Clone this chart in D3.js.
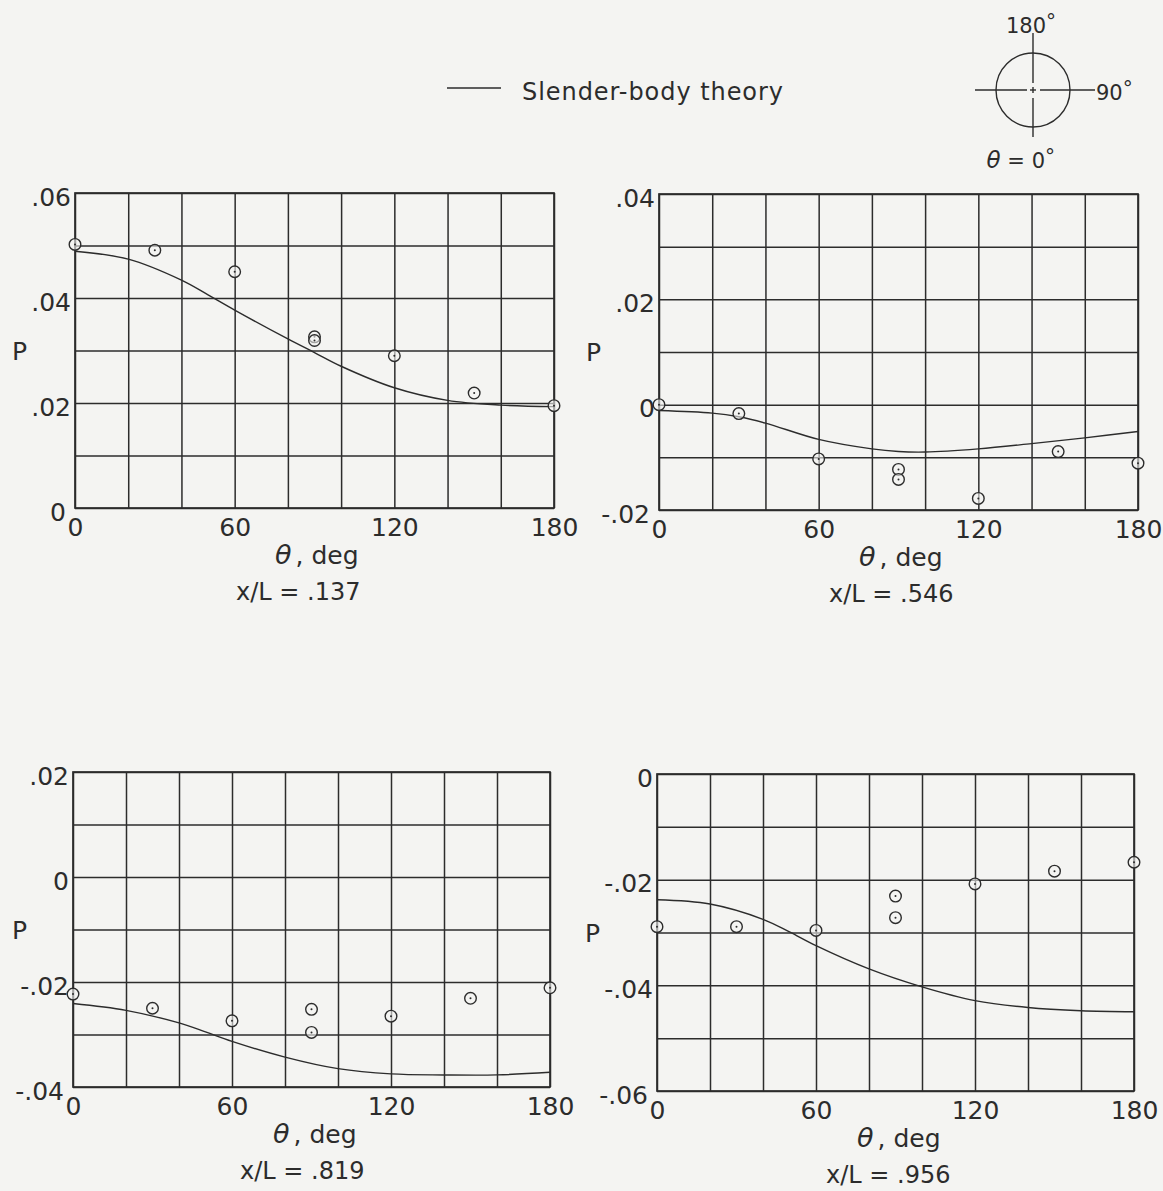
<!DOCTYPE html>
<html>
<head>
<meta charset="utf-8">
<script src="https://cdn.jsdelivr.net/npm/d3@7"></script>
<style>
  html, body { margin: 0; padding: 0; background: #f4f4f2; }
  svg { display: block; }
</style>
</head>
<body>
<svg id="chart" width="1163" height="1191"></svg>
<script>
// ---------------- DATA ----------------
const thetaTickValues = [0, 60, 120, 180];
const thetaTickLabels = ["0", "60", "120", "180"];

const stationLabels = ["x/L = .137", "x/L = .546", "x/L = .819", "x/L = .956"];

const yTickLabels137 = { "6": ".06", "4": ".04", "2": ".02", "0": "0" };
const yTickLabels546 = { "4": ".04", "2": ".02", "0": "0", "-2": "-.02" };
const yTickLabels819 = { "2": ".02", "0": "0", "-2": "-.02", "-4": "-.04" };
const yTickLabels956 = { "0": "0", "-2": "-.02", "-4": "-.04", "-6": "-.06" };

// measured pressure coefficients (circles)
const thetaMeasured = [0, 30, 60, 90, 90, 120, 150, 180];
const pMeasured137 = [0.0502, 0.0491, 0.0450, 0.0326, 0.0319, 0.0290, 0.0219, 0.0195];
const pMeasured546 = [0.0000, -0.0017, -0.0103, -0.0123, -0.0142, -0.0178, -0.0089, -0.0111];
const pMeasured819 = [-0.0223, -0.0250, -0.0274, -0.0252, -0.0296, -0.0265, -0.0231, -0.0211];
const pMeasured956 = [-0.0289, -0.0289, -0.0296, -0.0231, -0.0272, -0.0208, -0.0184, -0.0167];

// slender-body theory curves
const thetaTheory137 = [0, 20, 40, 50, 60, 80, 90, 100, 120, 140, 160, 180];
const pTheory137 = [0.0489, 0.0474, 0.0434, 0.0406, 0.0377, 0.0322, 0.0296, 0.0270, 0.0229, 0.0205, 0.0196, 0.0193];
const thetaTheory546 = [0, 20, 30, 40, 60, 80, 90, 100, 120, 140, 160, 180];
const pTheory546 = [-0.0011, -0.0016, -0.0023, -0.0035, -0.0066, -0.0084, -0.0089, -0.0090, -0.0084, -0.0074, -0.0063, -0.0051];
const thetaTheory819 = [0, 20, 40, 50, 60, 80, 100, 120, 140, 160, 180];
const pTheory819 = [-0.0241, -0.0254, -0.0278, -0.0295, -0.0313, -0.0343, -0.0365, -0.0375, -0.0377, -0.0377, -0.0372];
const thetaTheory956 = [0, 20, 40, 50, 60, 80, 100, 120, 140, 160, 180];
const pTheory956 = [-0.0238, -0.0246, -0.0275, -0.0299, -0.0325, -0.0369, -0.0403, -0.0429, -0.0442, -0.0448, -0.0450];

const legendLabel = "Slender-body theory";

// ---------------- LAYOUT ----------------
const ink = "#2c2c2c";
const font = "'DejaVu Sans', 'Liberation Sans', sans-serif";

const panels = [
  { x0: 75,  x1: 554,  y0: 193, y1: 508,  dom: [0, 0.06],     ylab: yTickLabels137, pm: pMeasured137, tt: thetaTheory137, pt: pTheory137, station: stationLabels[0], pX: 12,  stX: 161 },
  { x0: 659, x1: 1138, y0: 194, y1: 510,  dom: [-0.02, 0.04], ylab: yTickLabels546, pm: pMeasured546, tt: thetaTheory546, pt: pTheory546, station: stationLabels[1], pX: 586, stX: 170 },
  { x0: 73,  x1: 550,  y0: 772, y1: 1087, dom: [-0.04, 0.02], ylab: yTickLabels819, pm: pMeasured819, tt: thetaTheory819, pt: pTheory819, station: stationLabels[2], pX: 12,  stX: 167 },
  { x0: 657, x1: 1134, y0: 774, y1: 1091, dom: [-0.06, 0],    ylab: yTickLabels956, pm: pMeasured956, tt: thetaTheory956, pt: pTheory956, station: stationLabels[3], pX: 585, stX: 169 }
];

const svg = d3.select("#chart");
svg.append("rect").attr("width", 1163).attr("height", 1191).attr("fill", "#f4f4f2");

panels.forEach(p => {
  const x = d3.scaleLinear().domain([0, 180]).range([p.x0, p.x1]);
  const y = d3.scaleLinear().domain(p.dom).range([p.y1, p.y0]);
  const g = svg.append("g");
  const h = p.y1 - p.y0, w = p.x1 - p.x0;

  // vertical grid + theta tick labels
  const gridX = d3.range(0, 181, 20);
  const ax = d3.axisBottom(x)
    .tickValues(gridX)
    .tickSizeInner(-h).tickSizeOuter(0).tickPadding(10)
    .tickFormat(v => { const i = thetaTickValues.indexOf(v); return i >= 0 ? thetaTickLabels[i] : ""; });
  const gx = g.append("g").attr("transform", `translate(0,${p.y1})`).call(ax);
  gx.select(".domain").remove();
  gx.selectAll("line").attr("stroke", ink).attr("stroke-width", 1.5);
  gx.selectAll("text")
    .attr("font-family", font).attr("font-size", 25).attr("fill", ink)
    .attr("dy", null).attr("y", 28);

  // horizontal grid + P tick labels
  const lo = Math.round(p.dom[0] * 100), hi = Math.round(p.dom[1] * 100);
  const gridY = d3.range(lo, hi + 1).map(k => k / 100);
  const ay = d3.axisLeft(y)
    .tickValues(gridY)
    .tickSizeInner(-w).tickSizeOuter(0).tickPadding(4)
    .tickFormat(v => { const k = String(Math.round(v * 100)); return p.ylab[k] !== undefined ? p.ylab[k] : ""; });
  const gy = g.append("g").attr("transform", `translate(${p.x0},0)`).call(ay);
  gy.select(".domain").remove();
  gy.selectAll("line").attr("stroke", ink).attr("stroke-width", 1.5);
  gy.selectAll("text")
    .attr("font-family", font).attr("font-size", 25).attr("fill", ink)
    .attr("dy", null).attr("y", 12)
    .attr("x", v => (Math.abs(v - p.dom[0]) < 1e-9 ? -9 : -4));

  // frame
  g.append("rect").attr("x", p.x0).attr("y", p.y0).attr("width", w).attr("height", h)
    .attr("fill", "none").attr("stroke", ink).attr("stroke-width", 1.7);

  // theory curve
  const line = d3.line().x(d => x(d[0])).y(d => y(d[1])).curve(d3.curveCatmullRom.alpha(0.5));
  g.append("path").datum(p.tt.map((t, i) => [t, p.pt[i]]))
    .attr("d", line).attr("fill", "none").attr("stroke", ink).attr("stroke-width", 1.4);

  // measured points
  const pts = thetaMeasured.map((t, i) => [t, p.pm[i]]);
  const mk = g.append("g").selectAll("g").data(pts).join("g")
    .attr("transform", d => `translate(${x(d[0])},${y(d[1])})`);
  mk.append("circle").attr("r", 5.8).attr("fill", "#f4f4f2").attr("fill-opacity", 0.6)
    .attr("stroke", ink).attr("stroke-width", 1.4);
  mk.append("circle").attr("r", 1).attr("fill", ink);

  // axis titles
  g.append("text").attr("x", p.pX).attr("y", (p.y0 + p.y1) / 2 + 9)
    .attr("font-family", font).attr("font-size", 25).attr("fill", ink).text("P");
  const tt = g.append("text").attr("x", p.x0 + 200).attr("y", p.y1 + 56)
    .attr("font-family", font).attr("font-size", 25).attr("fill", ink);
  tt.append("tspan").attr("font-style", "italic").attr("font-size", 27).text("θ");
  tt.append("tspan").attr("dx", 4).text(", deg");
  g.append("text").attr("x", p.x0 + p.stX).attr("y", p.y1 + 92)
    .attr("font-family", font).attr("font-size", 24).attr("fill", ink).text(p.station);
});

// ---------------- LEGEND ----------------
svg.append("line").attr("x1", 447).attr("x2", 501).attr("y1", 88).attr("y2", 88)
  .attr("stroke", ink).attr("stroke-width", 1.5);
svg.append("text").attr("x", 522).attr("y", 100)
  .attr("font-family", font).attr("font-size", 24).attr("fill", ink)
  .attr("textLength", 261).attr("lengthAdjust", "spacing").text(legendLabel);

// ---------------- ORIENTATION SKETCH ----------------
const cx = 1033, cy = 90;
const sk = svg.append("g").attr("stroke", ink).attr("stroke-width", 1.4).attr("fill", "none");
sk.append("circle").attr("cx", cx).attr("cy", cy).attr("r", 37);
[[975, 1027], [1030, 1036], [1040, 1095]].forEach(s =>
  sk.append("line").attr("x1", s[0]).attr("x2", s[1]).attr("y1", cy).attr("y2", cy));
[[33, 83], [87, 93], [98, 137]].forEach(s =>
  sk.append("line").attr("x1", cx).attr("x2", cx).attr("y1", s[0]).attr("y2", s[1]));

const skText = (xx, yy, anchor) => svg.append("text").attr("x", xx).attr("y", yy)
  .attr("text-anchor", anchor).attr("font-family", font).attr("font-size", 21).attr("fill", ink);
const t180 = skText(1031, 33, "middle");
t180.append("tspan").text("180");
t180.append("tspan").attr("dy", -5).attr("font-size", 20).text("°");
const t90 = skText(1096, 100, "start");
t90.append("tspan").text("90");
t90.append("tspan").attr("dy", -5).attr("font-size", 20).text("°");
const t0 = skText(1055, 168, "end");
t0.append("tspan").attr("font-style", "italic").attr("font-size", 23).text("θ");
t0.append("tspan").text(" = 0");
t0.append("tspan").attr("dy", -5).attr("font-size", 20).text("°");
</script>
</body>
</html>
